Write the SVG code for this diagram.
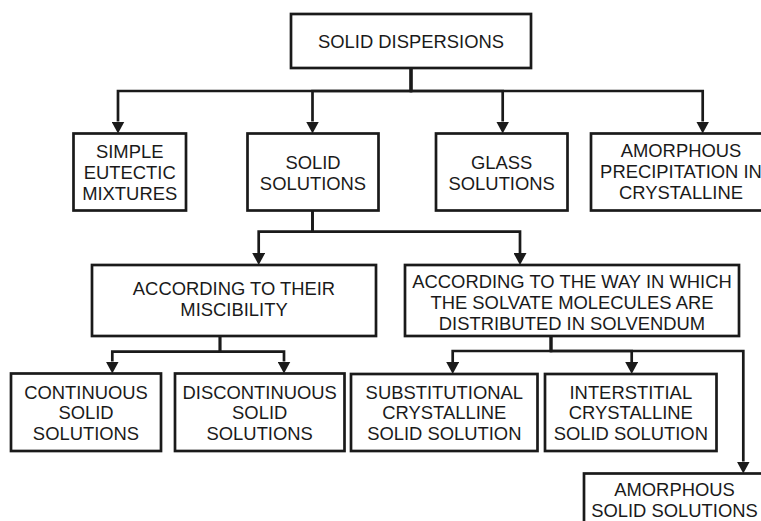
<svg xmlns="http://www.w3.org/2000/svg" width="761" height="521" viewBox="0 0 761 521">
<style>
  .box { fill: #ffffff; stroke: #1a1a1a; stroke-width: 2.7; }
  .lbl { font-family: "Liberation Sans", Arial, sans-serif; font-size: 18.4px; fill: #1a1a1a; text-anchor: middle; }
  .edge { fill: none; stroke: #1a1a1a; stroke-width: 2.7; stroke-linejoin: miter; marker-end: url(#arr); }
</style>
<defs>
  <marker id="arr" viewBox="0 0 12 13" refX="0" refY="6.5" markerWidth="12" markerHeight="13" markerUnits="userSpaceOnUse" orient="auto">
    <path d="M0,0 L12,6.5 L0,13 Z" fill="#1a1a1a"/>
  </marker>
</defs>
<rect width="761" height="521" fill="#ffffff"/>

<g id="connectors">
  <path class="edge" d="M411,68 V91 H118 V121.5"/>
  <path class="edge" d="M411,68 V91 H312.5 V121.5"/>
  <path class="edge" d="M411,68 V91 H502.7 V121.5"/>
  <path class="edge" d="M411,68 V91 H702.7 V121.5"/>
  <path class="edge" d="M312.5,211 V231.7 H258.7 V253"/>
  <path class="edge" d="M312.5,211 V231.7 H520 V253"/>
  <path class="edge" d="M220,336 V351.7 H112.3 V361.5"/>
  <path class="edge" d="M220,336 V351.7 H284 V361.5"/>
  <path class="edge" d="M551,336 V351 H452.7 V362"/>
  <path class="edge" d="M551,336 V351 H631.7 V362"/>
  <path class="edge" d="M551,336 V351 H743.3 V461.5"/>
</g>

<g id="solid-dispersions">
  <rect class="box" x="291" y="14" width="240" height="54"/>
  <text class="lbl" x="411" y="48">SOLID DISPERSIONS</text>
</g>
<g id="simple-eutectic">
  <rect class="box" x="73.5" y="133.5" width="112.5" height="77"/>
  <text class="lbl" x="129.7" y="158">SIMPLE</text>
  <text class="lbl" x="129.7" y="179">EUTECTIC</text>
  <text class="lbl" x="129.7" y="200">MIXTURES</text>
</g>
<g id="solid-solutions">
  <rect class="box" x="247.5" y="133.5" width="131" height="77"/>
  <text class="lbl" x="313" y="169">SOLID</text>
  <text class="lbl" x="313" y="189.5">SOLUTIONS</text>
</g>
<g id="glass-solutions">
  <rect class="box" x="436" y="133.5" width="131.5" height="77"/>
  <text class="lbl" x="501.7" y="169">GLASS</text>
  <text class="lbl" x="501.7" y="189.5">SOLUTIONS</text>
</g>
<g id="amorphous-precipitation">
  <rect class="box" x="591" y="133.5" width="180" height="77"/>
  <text class="lbl" x="681" y="157">AMORPHOUS</text>
  <text class="lbl" x="681" y="178">PRECIPITATION IN</text>
  <text class="lbl" x="681" y="199">CRYSTALLINE</text>
</g>
<g id="miscibility">
  <rect class="box" x="92" y="265" width="284" height="71"/>
  <text class="lbl" x="234" y="295">ACCORDING TO THEIR</text>
  <text class="lbl" x="234" y="316">MISCIBILITY</text>
</g>
<g id="distribution">
  <rect class="box" x="405" y="265" width="334" height="71"/>
  <text class="lbl" x="572" y="287.5">ACCORDING TO THE WAY IN WHICH</text>
  <text class="lbl" x="572" y="308.5">THE SOLVATE MOLECULES ARE</text>
  <text class="lbl" x="572" y="329.5">DISTRIBUTED IN SOLVENDUM</text>
</g>
<g id="continuous">
  <rect class="box" x="11" y="373.5" width="150" height="77.5"/>
  <text class="lbl" x="86" y="398.5">CONTINUOUS</text>
  <text class="lbl" x="86" y="419.3">SOLID</text>
  <text class="lbl" x="86" y="440">SOLUTIONS</text>
</g>
<g id="discontinuous">
  <rect class="box" x="175" y="373.5" width="169.5" height="77.5"/>
  <text class="lbl" x="259.7" y="398.5">DISCONTINUOUS</text>
  <text class="lbl" x="259.7" y="419.3">SOLID</text>
  <text class="lbl" x="259.7" y="440">SOLUTIONS</text>
</g>
<g id="substitutional">
  <rect class="box" x="351" y="374" width="186.5" height="77"/>
  <text class="lbl" x="444.3" y="398.5">SUBSTITUTIONAL</text>
  <text class="lbl" x="444.3" y="419.3">CRYSTALLINE</text>
  <text class="lbl" x="444.3" y="440">SOLID SOLUTION</text>
</g>
<g id="interstitial">
  <rect class="box" x="545" y="374" width="171.5" height="77"/>
  <text class="lbl" x="630.8" y="398.5">INTERSTITIAL</text>
  <text class="lbl" x="630.8" y="419.3">CRYSTALLINE</text>
  <text class="lbl" x="630.8" y="440">SOLID SOLUTION</text>
</g>
<g id="amorphous-solid">
  <rect class="box" x="584" y="473.5" width="181" height="60"/>
  <text class="lbl" x="674.5" y="495.5">AMORPHOUS</text>
  <text class="lbl" x="674.5" y="516.5">SOLID SOLUTIONS</text>
</g>
</svg>
